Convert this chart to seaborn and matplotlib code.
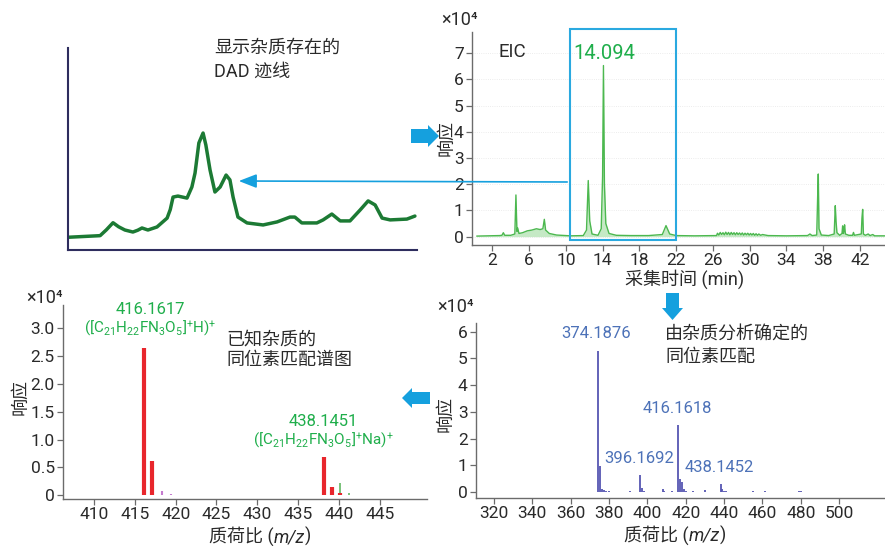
import matplotlib
matplotlib.use("Agg")
import matplotlib.pyplot as plt
from matplotlib.patches import Rectangle, FancyArrow, FancyArrowPatch
from matplotlib.transforms import IdentityTransform
import pandas as pd
import seaborn as sns

# ---------------- data ----------------
# DAD trace (arbitrary units, 0-100 on both axes)
dad_time = [0, 9.2, 11.0, 12.9, 14.5, 16.3, 18.6, 20.0, 21.2, 22.9,
            25.5, 28.4, 29.3, 30.1, 31.5, 34.1, 35.5, 36.4, 37.5, 38.7,
            39.5, 40.7, 42.1, 43.6, 45.3, 46.4, 47.3, 48.7, 51.3, 55.9,
            59.9, 63.6, 65.0, 67.0, 71.3, 73.1, 75.6, 78.0, 80.8, 83.7,
            86.0, 88.0, 90.0, 92.3, 97.1, 99.4]
dad_signal = [6.3, 7.1, 10.0, 13.5, 11.5, 9.9, 8.9, 9.8, 10.9, 9.9,
              11.4, 15.8, 20.0, 26.2, 26.7, 25.7, 31.2, 38.1, 53.0, 57.9,
              52.0, 39.6, 28.7, 31.2, 37.1, 34.7, 26.2, 16.3, 13.4, 12.4,
              13.9, 16.3, 16.3, 13.4, 13.4, 14.9, 17.8, 14.4, 14.4, 19.8,
              24.3, 22.3, 15.8, 14.9, 15.3, 16.8]

# Extracted ion chromatogram (response in units of 1e4)
eic_time = [0.3, 1.5, 2.8, 3.05, 3.2, 3.35, 4.0, 4.45, 4.57, 4.68,
            4.76, 4.9, 5.3, 5.8, 6.3, 6.8, 7.2, 7.5, 7.66, 7.8,
            8.2, 9.0, 10.5, 11.9, 12.25, 12.44, 12.6, 12.85, 13.5, 13.85,
            14.0, 14.094, 14.2, 14.35, 14.7, 15.5, 17.0, 19.0, 20.5, 20.9,
            21.3, 22.0, 24.0, 26.4,
            26.5, 26.65, 26.8, 26.95, 27.1, 27.25, 27.4, 27.55, 27.7, 27.85,
            28.0, 28.15, 28.3, 28.45, 28.6, 28.75, 28.9, 29.05, 29.2, 29.35,
            29.5, 29.65, 29.8, 29.95, 30.1, 30.25, 30.4, 30.55, 30.7, 30.85,
            31.0, 31.2, 31.4,
            32.0, 34.0, 36.3, 36.56, 36.8, 37.3, 37.4, 37.47, 37.55,
            37.8, 38.6, 39.2, 39.32, 39.4, 39.5, 39.8, 40.05, 40.12, 40.2,
            40.28, 40.33, 40.42, 40.8, 41.2, 41.3, 41.4, 42.15, 42.22, 42.3,
            42.38, 42.6, 42.9, 43.1, 43.4, 43.6, 44.7]
eic_response = [0.02, 0.03, 0.04, 0.05, 0.15, 0.05, 0.05, 0.10, 1.59, 0.20,
                0.33, 0.12, 0.15, 0.22, 0.25, 0.30, 0.27, 0.30, 0.66, 0.25,
                0.12, 0.06, 0.03, 0.04, 0.25, 2.14, 0.60, 0.10, 0.05, 0.30,
                2.30, 6.53, 2.00, 0.50, 0.12, 0.05, 0.04, 0.04, 0.08, 0.42,
                0.10, 0.04, 0.03, 0.04,
                0.13, 0.06, 0.16, 0.08, 0.15, 0.07, 0.17, 0.08, 0.16, 0.07,
                0.16, 0.08, 0.15, 0.07, 0.15, 0.08, 0.14, 0.07, 0.14, 0.06,
                0.13, 0.07, 0.13, 0.06, 0.12, 0.06, 0.12, 0.05, 0.11, 0.05,
                0.10, 0.05, 0.08,
                0.04, 0.03, 0.04, 0.10, 0.04, 0.06, 1.50, 2.39, 0.30,
                0.06, 0.04, 0.10, 1.18, 0.60, 0.15, 0.05, 0.12, 0.41, 0.12,
                0.25, 0.45, 0.10, 0.05, 0.05, 0.16, 0.05, 0.10, 0.70, 1.04,
                0.10, 0.05, 0.10, 0.04, 0.08, 0.03, 0.03]
eic_xticks = [2, 6, 10, 14, 18, 22, 26, 30, 34, 38, 42]
eic_yticks = [0, 1, 2, 3, 4, 5, 6, 7]
eic_apex_time = 14.094
eic_window = (10.45, 21.99)

# Measured spectrum (intensity in units of 1e4)
ms_mz = [374.1876, 375.19, 376.19, 377.2, 378.5, 380.0, 391.0, 396.1692, 397.17, 398.2,
         408.0, 408.6, 413.0, 416.1618, 417.16, 418.16, 419.16, 420.0, 424.0, 430.0,
         438.1452, 439.15, 440.15, 441.2, 450.0, 452.0, 455.0, 457.0, 460.0, 461.5,
         465.0, 470.0, 477.5, 479.0, 480.0, 488.0, 500.0, 502.0, 511.0, 514.0, 520.0]
ms_int = [5.29, 0.96, 0.12, 0.08, 0.05, 0.04, 0.03, 0.63, 0.15, 0.05,
          0.10, 0.05, 0.06, 2.51, 0.50, 0.36, 0.10, 0.04, 0.03, 0.08,
          0.31, 0.12, 0.06, 0.03, 0.02, 0.02, 0.03, 0.02, 0.02, 0.04,
          0.02, 0.02, 0.02, 0.03, 0.04, 0.02, 0.02, 0.02, 0.02, 0.02, 0.02]
ms_labeled = [374.1876, 396.1692, 416.1618, 438.1452]
ms_xticks = [320, 340, 360, 380, 400, 420, 440, 460, 480, 500]
ms_yticks = [0, 1, 2, 3, 4, 5, 6]

# Isotope pattern of the known impurity (intensity in units of 1e4)
iso_main_mz = [416.1617, 417.165, 438.1451, 439.15, 440.15]
iso_main_int = [2.64, 0.62, 0.69, 0.15, 0.03]
iso_minor_mz = [418.3, 419.4]
iso_minor_int = [0.08, 0.02]
iso_na_mz = [440.19, 441.25]
iso_na_int = [0.22, 0.03]
iso_xticks = [410, 415, 420, 425, 430, 435, 440, 445]
iso_yticks = [0, 0.5, 1.0, 1.5, 2.0, 2.5, 3.0]
iso_yticklabels = ["0", "0.5", "1.0", "1.5", "2.0", "2.5", "3.0"]

# ---------------- style ----------------
sns.set_theme(style="ticks")
plt.rcParams["font.family"] = ["Roboto", "Noto Sans CJK SC", "DejaVu Sans"]
plt.rcParams["mathtext.fontset"] = "custom"
plt.rcParams["mathtext.rm"] = "Roboto"
plt.rcParams["mathtext.it"] = "Roboto:italic"
plt.rcParams["mathtext.bf"] = "Roboto:bold"
plt.rcParams["axes.unicode_minus"] = False

W, H = 885, 546
TXT = "#2a2a2a"
GREEN = "#1fae4b"
BLUE_LBL = "#4d72b8"
ARROW = "#15a0de"
SPINE = "#6b6b6b"
TICK_FS = 12.5

fig = plt.figure(figsize=(W / 100, H / 100), dpi=100)
fig.patch.set_facecolor("white")
renderer = fig.canvas.get_renderer()


def fpos(px, py):
    return px / W, 1 - py / H


def box(l, t, r, b):
    return [l / W, 1 - b / H, (r - l) / W, (b - t) / H]


def ftext(px, py, s, **kw):
    kw.setdefault("color", TXT)
    kw.setdefault("fontsize", 13)
    x, y = fpos(px, py)
    return fig.text(x, y, s, **kw)


def rich_text(cx, baseline, pieces, **kw):
    """Draw text pieces with individual styles side by side, centred on cx."""
    kw.setdefault("color", TXT)
    kw.setdefault("fontsize", 13)
    arts = [fig.text(0, 0, s, ha="left", va="baseline", **kw, **extra)
            for s, extra in pieces]
    widths = [t.get_window_extent(renderer).width for t in arts]
    x = cx - sum(widths) / 2
    for t, w in zip(arts, widths):
        t.set_position(fpos(x, baseline))
        x += w


def style_axes(ax):
    sns.despine(ax=ax)
    for s in ("left", "bottom"):
        ax.spines[s].set_color(SPINE)
        ax.spines[s].set_linewidth(1.0)
    ax.tick_params(axis="both", direction="out", length=4, width=0.9,
                   color=SPINE, labelsize=TICK_FS, labelcolor=TXT, pad=2)
    ax.set_xlabel("")
    ax.set_ylabel("")


# ---------------- DAD trace ----------------
ax_dad = fig.add_axes(box(68, 48, 417, 250))
sns.lineplot(x=dad_time, y=dad_signal, ax=ax_dad, color="#1c7a34", lw=2.5)
ax_dad.set_xlim(0, 100)
ax_dad.set_ylim(0, 100)
sns.despine(ax=ax_dad)
for s in ("left", "bottom"):
    ax_dad.spines[s].set_color("#2e2d5e")
    ax_dad.spines[s].set_linewidth(1.5)
ax_dad.set_xticks([])
ax_dad.set_yticks([])
ax_dad.set_facecolor("white")

ftext(214, 48, "显示杂质存在的", va="center", ha="left")
ftext(214, 72, "DAD 迹线", va="center", ha="left")

# ---------------- EIC ----------------
ax_eic = fig.add_axes(box(472, 32, 885, 245))
eic_df = pd.DataFrame({"t": eic_time, "r": eic_response})
ax_eic.fill_between(eic_df["t"], 0, eic_df["r"], color="#7fcf80", alpha=0.45, lw=0)
sns.lineplot(data=eic_df, x="t", y="r", ax=ax_eic, color="#4cb84f", lw=1.0)
ax_eic.set_xlim(-0.21, 44.73)
ax_eic.set_ylim(-0.32, 7.81)
ax_eic.set_xticks(eic_xticks)
ax_eic.set_yticks(eic_yticks)
ax_eic.grid(axis="y", color="#e6e6e6", lw=0.6, ls=":")
style_axes(ax_eic)
ax_eic.add_patch(Rectangle((eic_window[0], -0.13), eic_window[1] - eic_window[0], 8.06,
                           fill=False, edgecolor="#2aa9e0", lw=1.5, clip_on=False, zorder=5))
ax_eic.text(eic_window[0] + 0.35, 7.0, f"{eic_apex_time:.3f}", color=GREEN,
            fontsize=14.5, ha="left", va="center")
ftext(499, 52, "EIC", fontsize=13.5, va="center", ha="left")
ftext(441, 20, "×10⁴", fontsize=13, va="center", ha="left")
ftext(446, 138, "响应", rotation=90, va="center", ha="center")
ftext(685, 279, "采集时间 (min)", va="center", ha="center")

# ---------------- measured spectrum ----------------
ax_ms = fig.add_axes(box(476, 323, 885, 498))
ax_ms.vlines(ms_mz, 0, ms_int, color="#5656b2", lw=1.3)
ax_ms.set_xlim(310.6, 523.9)
ax_ms.set_ylim(-0.22, 6.32)
ax_ms.set_xticks(ms_xticks)
ax_ms.set_yticks(ms_yticks)
style_axes(ax_ms)
for mz in ms_labeled:
    h = ms_int[ms_mz.index(mz)]
    ax_ms.annotate(f"{mz:.4f}", (mz, h), xytext=(-1, 12), textcoords="offset points",
                   ha="center", va="center", color=BLUE_LBL, fontsize=12)
ftext(665, 335, "由杂质分析确定的", va="center", ha="left")
ftext(665, 357, "同位素匹配", va="center", ha="left")
ftext(437, 307, "×10⁴", fontsize=13, va="center", ha="left")
ftext(445, 414, "响应", rotation=90, va="center", ha="center")
rich_text(675, 541, [("质荷比 (", {}), ("m/z", {"fontstyle": "italic"}), (")", {})])

# ---------------- isotope pattern ----------------
ax_iso = fig.add_axes(box(63, 305, 427, 499))
ax_iso.vlines(iso_minor_mz, 0, iso_minor_int, color="#c57bcf", lw=1.5)
ax_iso.vlines(iso_na_mz, 0, iso_na_int, color="#62b862", lw=1.2)
ax_iso.vlines(iso_main_mz, 0, iso_main_int, color="#e8262c", lw=3.0)
ax_iso.set_xlim(406.2, 450.8)
ax_iso.set_ylim(-0.07, 3.42)
ax_iso.set_xticks(iso_xticks)
ax_iso.set_yticks(iso_yticks)
ax_iso.set_yticklabels(iso_yticklabels)
style_axes(ax_iso)

ftext(150, 309, f"{iso_main_mz[0]:.4f}", color=GREEN, fontsize=12, va="center", ha="center")
ftext(150, 328, r"([C$_{21}$H$_{22}$FN$_{3}$O$_{5}$]$^{+}$H)$^{+}$", color=GREEN,
      fontsize=11, va="center", ha="center")
ftext(323, 421, f"{iso_main_mz[2]:.4f}", color=GREEN, fontsize=12, va="center", ha="center")
ftext(323, 440, r"([C$_{21}$H$_{22}$FN$_{3}$O$_{5}$]$^{+}$Na)$^{+}$", color=GREEN,
      fontsize=11, va="center", ha="center")
ftext(226, 340, "已知杂质的", va="center", ha="left")
ftext(226, 360, "同位素匹配谱图", va="center", ha="left")
ftext(26, 298, "×10⁴", fontsize=13, va="center", ha="left")
ftext(20, 397, "响应", rotation=90, va="center", ha="center")
rich_text(260, 542, [("质荷比 (", {}), ("m/z", {"fontstyle": "italic"}), (")", {})])

# ---------------- connecting arrows ----------------
ident = IdentityTransform()
# EIC window -> DAD peak
fig.add_artist(FancyArrowPatch(fpos(570, 182), fpos(236, 181), transform=fig.transFigure,
                               arrowstyle="-|>,head_length=0.9,head_width=0.35",
                               mutation_scale=12, color=ARROW, lw=1.2))
# block arrows (display pixels, origin bottom-left)
fig.add_artist(FancyArrow(411, H - 136, 28, 0, width=14, head_width=22, head_length=11,
                          length_includes_head=True, color=ARROW, lw=0, transform=ident))
fig.add_artist(FancyArrow(672.5, H - 293, 0, -27, width=13, head_width=21, head_length=12,
                          length_includes_head=True, color=ARROW, lw=0, transform=ident))
fig.add_artist(FancyArrow(430, H - 398, -28, 0, width=12, head_width=20, head_length=10,
                          length_includes_head=True, color=ARROW, lw=0, transform=ident))

fig.savefig("out.png", dpi=100)
